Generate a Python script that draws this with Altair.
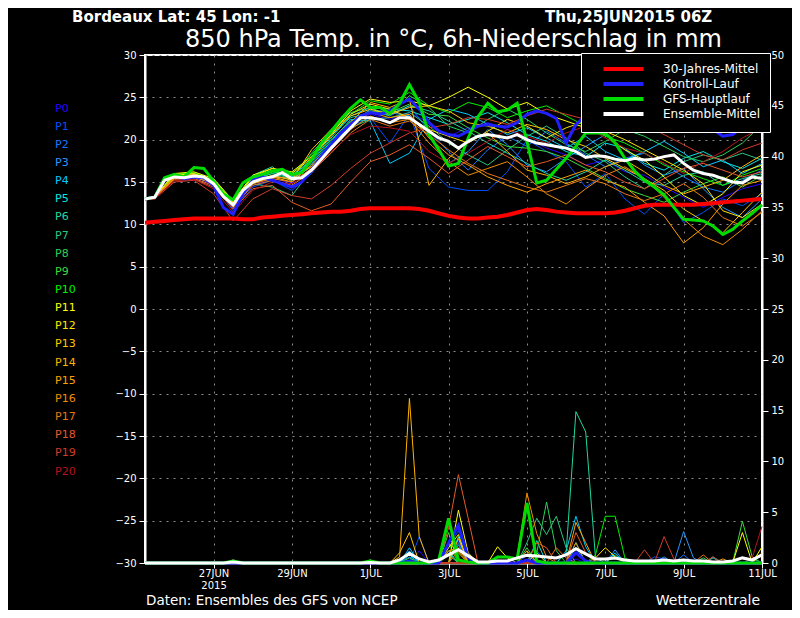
import json
import altair as alt
import pandas as pd

FONT = "DejaVu Sans"

# ---------------- data ----------------
member_names = ["P0", "P1", "P2", "P3", "P4", "P5", "P6", "P7", "P8", "P9", "P10",
                "P11", "P12", "P13", "P14", "P15", "P16", "P17", "P18", "P19", "P20"]
member_colors = ["#2800ff", "#0050ff", "#1478ff", "#2896ff", "#00c8ff", "#00e6e6", "#20d8a0",
                 "#28c882", "#28d25a", "#3cdc3c", "#00f000", "#ffff00", "#ffe600", "#ffc800",
                 "#ffb400", "#ffa000", "#f08c00", "#e67814", "#e65a28", "#d23c28", "#b4141e"]

series_names = ["30-Jahres-Mittel", "Kontroll-Lauf", "GFS-Hauptlauf", "Ensemble-Mittel"]
series_colors = ["#ff0000", "#2020ff", "#00dc00", "#ffffff"]

# forecast hours after 25 JUN 2015 00Z
hours_6h = list(range(6, 385, 6))            # 64 steps, 6-hourly
hours_12h = [6] + list(range(12, 385, 12))   # 33 steps, members temperature

tick_hours = [48, 96, 144, 192, 240, 288, 336, 384]
tick_labels = [["27JUN", "2015"], ["29JUN"], ["1JUL"], ["3JUL"], ["5JUL"], ["7JUL"], ["9JUL"], ["11JUL"]]

header_left = "Bordeaux  Lat: 45 Lon: -1"
header_right = "Thu,25JUN2015 06Z"
main_title = "850 hPa Temp. in °C, 6h-Niederschlag in mm"
footer_left = "Daten: Ensembles des GFS von NCEP"
footer_right = "Wetterzentrale"

# 850 hPa temperature of the ensemble members (12-hourly)
temp_members = {
    "P0": [13.0,13.2,15.4,15.5,14.6,11.9,14.6,15.4,14.9,16.6,19.4,21.8,23.0,22.4,23.2,22.0,20.4,21.4,22.0,21.2,20.2,19.0,18.2,17.0,17.6,16.2,15.8,14.4,13.2,12.0,13.2,14.2,14.8],
    "P1": [12.9,13.1,15.6,15.6,14.8,11.6,14.4,15.2,14.0,16.0,19.0,21.6,22.6,19.6,23.0,16.6,14.4,14.0,14.0,16.2,20.0,18.6,17.4,14.4,16.0,13.0,11.2,13.6,10.2,11.4,13.0,12.2,13.6],
    "P2": [13.1,13.3,15.7,15.9,15.0,12.4,15.2,15.6,15.4,17.0,19.6,22.2,23.4,22.8,24.0,21.0,18.6,16.4,18.8,20.4,19.2,21.0,19.6,18.2,16.8,17.8,18.4,17.2,15.6,14.4,13.8,15.2,16.4],
    "P3": [13.0,13.2,15.5,15.7,14.9,12.2,15.0,15.8,15.3,16.8,19.2,21.8,23.6,23.2,22.8,20.4,17.2,18.6,21.2,19.4,17.0,16.2,17.8,19.2,20.6,18.8,17.0,15.8,16.6,14.2,12.0,10.8,13.0],
    "P4": [13.0,13.3,15.8,15.7,15.0,12.6,15.4,16.0,15.6,17.2,19.8,22.4,22.2,17.2,18.4,22.4,23.6,23.0,21.8,20.6,21.4,20.2,19.0,20.4,18.6,17.6,18.6,19.8,18.4,16.8,17.6,16.0,17.2],
    "P5": [13.1,13.3,15.9,16.0,15.2,12.8,15.6,16.2,15.8,17.6,20.2,22.8,23.8,23.6,23.4,22.6,21.8,22.4,23.2,22.0,20.6,19.8,18.6,18.0,19.6,19.0,17.2,16.4,17.8,18.6,17.4,16.6,17.8],
    "P6": [13.0,13.2,15.6,15.8,15.2,12.6,15.8,16.8,15.0,17.8,20.6,22.6,23.2,23.0,24.0,23.4,22.2,21.0,19.6,18.4,17.2,16.0,15.2,16.2,17.6,16.4,15.0,14.6,15.8,16.2,14.6,15.4,16.0],
    "P7": [12.9,13.1,15.4,15.6,14.9,12.0,14.8,14.4,13.4,16.4,19.6,21.4,22.4,22.6,23.2,21.6,19.6,18.2,17.0,18.8,20.4,21.6,20.2,18.4,17.4,15.6,14.2,15.8,17.4,18.2,17.6,18.4,17.6],
    "P8": [13.0,13.2,15.6,15.7,15.0,12.4,15.2,16.0,15.4,18.4,21.0,23.2,23.8,22.8,25.2,23.8,21.6,20.8,22.4,23.6,22.4,20.8,19.4,18.6,19.8,21.2,20.4,19.2,18.0,17.4,18.2,19.6,21.8],
    "P9": [13.0,13.2,15.7,15.8,15.1,12.5,15.4,16.4,15.8,17.4,20.0,22.2,23.4,23.2,24.2,23.0,22.8,21.4,20.2,19.2,19.0,18.6,17.8,16.6,15.4,14.2,13.4,12.6,13.8,14.8,15.6,14.4,15.8],
    "P10": [13.0,13.3,15.9,16.1,15.3,12.7,15.6,16.2,16.0,18.2,20.8,23.0,24.6,24.2,25.6,24.0,23.2,24.4,23.8,22.6,23.4,24.0,22.8,21.6,20.4,19.6,18.4,17.0,16.2,15.4,14.6,15.8,16.6],
    "P11": [13.0,13.3,16.0,16.2,15.4,12.8,15.8,16.6,16.2,18.0,20.6,23.4,24.8,24.4,24.6,24.0,25.0,26.2,25.0,23.6,24.4,23.0,22.2,21.4,20.6,18.8,17.6,15.6,13.4,12.2,13.6,16.2,17.0],
    "P12": [13.0,13.2,15.8,16.0,15.2,12.6,15.6,16.6,16.0,17.8,20.4,23.0,24.2,23.6,22.6,21.2,20.4,19.6,21.0,22.4,21.6,20.2,21.4,22.2,21.0,20.0,18.8,17.6,16.4,14.8,11.6,10.8,12.4],
    "P13": [13.0,13.2,15.6,15.9,15.0,12.3,15.0,15.8,15.2,18.8,21.2,22.8,23.6,23.0,23.8,24.0,23.4,22.0,21.6,20.8,21.8,21.2,20.0,19.2,17.8,16.6,15.4,14.0,11.8,10.4,9.0,11.4,13.8],
    "P14": [12.9,13.1,15.4,15.6,14.8,12.1,14.8,15.6,15.0,17.0,19.4,22.0,24.4,23.8,24.8,14.6,17.8,19.8,20.8,18.6,16.4,15.8,14.8,15.6,16.8,17.6,16.2,14.6,13.6,14.4,15.2,16.8,18.2],
    "P15": [13.0,13.2,15.6,15.8,15.0,12.2,15.0,15.6,15.4,16.8,19.2,21.6,23.2,22.6,23.0,20.2,18.2,17.0,15.6,14.6,13.8,14.8,15.6,16.4,15.2,14.4,12.6,11.0,7.8,9.6,12.4,14.6,15.2],
    "P16": [13.0,13.2,15.5,15.8,14.8,12.2,14.8,15.4,15.0,16.6,18.8,21.2,22.8,22.0,22.4,19.6,17.4,15.8,16.6,17.4,15.6,13.6,12.4,14.2,15.8,16.8,15.4,13.2,10.6,8.6,7.6,9.4,11.6],
    "P17": [12.9,13.1,15.3,15.4,14.6,12.0,14.6,15.2,14.6,16.2,18.4,20.8,22.4,21.6,22.2,20.6,18.8,17.2,16.0,15.2,14.4,13.8,14.6,15.4,14.8,13.6,12.8,13.6,14.8,13.2,10.8,9.8,11.4],
    "P18": [12.9,13.1,15.2,15.3,14.4,11.8,14.2,14.6,12.6,11.6,12.4,15.0,17.4,18.2,19.4,17.8,16.0,17.6,19.2,18.0,16.8,17.4,18.2,17.0,16.2,15.0,14.2,15.4,16.6,17.2,16.4,15.6,16.2],
    "P19": [12.9,13.0,15.0,15.2,13.6,10.4,13.0,14.2,13.4,13.0,14.6,16.6,18.4,19.6,20.8,21.4,21.8,22.6,22.4,21.8,22.8,23.6,23.0,22.4,21.6,20.8,21.8,20.6,19.4,18.2,17.6,18.8,19.6],
    "P20": [12.9,13.0,15.2,15.3,14.2,11.4,14.0,15.0,14.8,16.2,18.6,20.6,21.6,21.4,21.0,18.6,17.2,18.4,19.8,21.2,20.4,19.6,20.8,21.6,20.2,19.0,18.4,17.2,16.0,17.4,18.6,20.2,21.4],
}

# 6h precipitation of the members: {6h-step index: mm}, all other steps 0 mm
precip_members = {
    "P0": {28: 1.2, 32: 2.2, 44: 0.4, 56: 0.3},
    "P1": {28: 2.6, 31: 1.5, 32: 3.2, 39: 0.8, 52: 0.6, 53: 0.4},
    "P2": {27: 0.6, 32: 2.0, 40: 1.2, 55: 0.8},
    "P3": {27: 1.2, 32: 1.8, 44: 1.5, 48: 1.3, 53: 0.6, 55: 3.1, 56: 0.5},
    "P4": {27: 1.5, 31: 1.0, 43: 1.2, 44: 4.6, 45: 1.6, 48: 1.0},
    "P5": {27: 0.8, 32: 2.6, 40: 2.2, 44: 2.0, 58: 0.5},
    "P6": {43: 1.0, 44: 14.9, 45: 12.9, 46: 0.5, 52: 0.3},
    "P7": {9: 0.3, 31: 1.2, 39: 2.0, 40: 4.4, 41: 2.8, 42: 4.6, 43: 1.5, 58: 0.6, 62: 0.4},
    "P8": {31: 0.8, 40: 1.0, 41: 6.0, 42: 1.2, 48: 0.8, 57: 0.5},
    "P9": {27: 0.5, 31: 3.0, 39: 1.5, 61: 4.1, 62: 0.6},
    "P10": {23: 0.3, 31: 2.0, 46: 0.8, 47: 4.6, 48: 4.6, 49: 0.5},
    "P11": {32: 5.2, 33: 1.0, 36: 1.6, 37: 0.5, 61: 3.0, 63: 1.6},
    "P12": {31: 1.5, 32: 2.8, 46: 0.5, 47: 1.5, 48: 0.6, 63: 1.0},
    "P13": {26: 1.0, 27: 3.0, 31: 2.0, 32: 1.0, 40: 1.0},
    "P14": {26: 0.6, 27: 16.2, 28: 2.6, 32: 2.4, 39: 1.2},
    "P15": {31: 1.2, 32: 1.5, 44: 4.0, 45: 2.0, 59: 0.4},
    "P16": {38: 0.6, 39: 6.9, 40: 2.9, 41: 0.6, 44: 2.0},
    "P17": {9: 0.2, 32: 1.2, 42: 1.5, 43: 0.5, 57: 0.8},
    "P18": {31: 3.5, 32: 8.7, 33: 4.4, 40: 2.0, 41: 1.5, 44: 3.0, 45: 1.0},
    "P19": {9: 0.3, 51: 1.3, 53: 2.6, 54: 0.4, 58: 0.6},
    "P20": {62: 0.5, 63: 3.6},
}

# 6-hourly main series
clim_temp = [10.2,10.3,10.4,10.5,10.6,10.7,10.7,10.7, 10.7,10.7,10.6,10.6,10.8,10.9,11.0,11.1,
             11.2,11.3,11.4,11.5,11.5,11.6,11.8,11.9, 11.9,11.9,11.9,11.9,11.8,11.6,11.3,11.0,
             10.8,10.7,10.7,10.8,10.9,11.1,11.4,11.7, 11.8,11.7,11.5,11.4,11.3,11.3,11.3,11.3,
             11.4,11.6,11.9,12.2,12.3,12.3,12.3,12.3, 12.3,12.4,12.5,12.6,12.7,12.8,12.9,13.0]
ctrl_temp = [13.0,13.2,15.3,15.7,15.4,15.6,15.5,14.6, 12.0,11.2,13.6,15.2,15.6,15.2,14.8,14.4,
             15.0,16.4,18.0,19.4,20.8,21.8,22.8,23.2, 23.0,23.4,24.2,24.8,23.6,22.0,21.0,20.6,
             20.4,21.0,21.6,21.8,21.6,21.5,22.0,23.0, 23.4,23.1,22.5,19.6,21.8,22.8,23.0,23.2,
             22.8,22.6,22.8,23.0,22.6,22.4,22.4,21.7, 21.4,21.5,21.2,20.4,20.6,21.5,22.3,22.3]
gfs_temp = [13.0,13.2,15.5,15.9,15.6,16.7,16.6,15.1, 13.6,12.9,14.9,15.6,15.9,16.3,16.5,15.9,
            16.1,17.6,19.6,21.0,22.4,23.7,24.7,23.8, 23.8,23.1,24.3,26.5,24.4,20.6,18.8,16.9,
            17.2,20.2,22.7,24.3,23.3,23.5,24.3,19.8, 14.9,15.2,16.5,17.8,19.2,20.8,20.8,20.8,
            19.6,17.8,16.3,15.2,14.4,13.5,12.0,10.6, 10.5,10.4,9.8,8.8,9.4,10.4,11.3,12.3]
mean_temp = [13.0,13.2,15.2,15.6,15.5,15.7,15.6,14.8, 13.3,12.3,14.0,15.0,15.4,15.6,16.1,15.4,
             15.5,16.4,17.7,19.0,20.2,21.4,22.6,22.6, 22.4,22.0,22.6,22.6,21.8,21.0,20.2,19.8,
             19.0,19.8,20.4,20.6,20.4,20.2,20.6,20.0, 19.6,19.4,19.2,19.0,18.6,17.9,18.1,18.0,
             17.7,17.5,17.8,17.6,17.7,18.0,18.2,17.2, 16.4,16.0,15.8,15.4,15.0,14.9,15.6,15.4]

ctrl_precip = [0,0,0,0,0,0,0,0, 0,0,0,0,0,0,0,0,
               0,0,0,0,0,0,0,0, 0,0,0,0.2,0,0,0,2.0,
               3.7,0.5,0,0,0,0,0,0.3, 0,0,0,0,1.0,0.2,0,0,
               0,0,0,0,0,0,0,0, 0,0,0,0,0,0,0,0]
gfs_precip = [0,0,0,0,0,0,0,0, 0,0.2,0,0,0,0,0,0,
              0,0,0,0,0,0,0,0.2, 0,0,0,0,0,0,0.3,4.4,
              0.3,0.1,0,0,0.6,0.6,0.4,5.9, 0.2,0,0,0,0,0,0,0,
              0,0,0,0,0,0,0,0, 0,0,0,0,0,0,0,0]
mean_precip = [0,0,0,0,0,0,0,0, 0,0.1,0,0,0,0,0,0,
               0,0,0,0,0,0,0,0.05, 0,0,0.3,0.95,0.4,0.1,0.3,0.8,
               1.3,0.7,0.1,0.1,0.2,0.2,0.5,0.75, 0.7,0.6,0.5,0.8,1.4,0.9,0.4,0.4,
               0.5,0.3,0.2,0.2,0.2,0.3,0.2,0.3, 0.2,0.2,0.1,0.1,0.2,0.5,0.3,0.8]

# ---------------- tables ----------------
rows = []
for m in member_names:
    for h, v in zip(hours_12h, temp_members[m]):
        rows.append({"member": m, "hour": h, "temp": v})
df_mt = pd.DataFrame(rows)

rows = []
for m in member_names:
    ev = precip_members[m]
    for i, h in enumerate(hours_6h):
        rows.append({"member": m, "hour": h, "precip": ev.get(i, 0.0)})
df_mp = pd.DataFrame(rows)

rows = []
for name, vals in zip(series_names, [clim_temp, ctrl_temp, gfs_temp, mean_temp]):
    for h, v in zip(hours_6h, vals):
        rows.append({"series": name, "hour": h, "temp": v})
df_st = pd.DataFrame(rows)

rows = []
for name, vals in zip(series_names[1:], [ctrl_precip, gfs_precip, mean_precip]):
    for h, v in zip(hours_6h, vals):
        rows.append({"series": name, "hour": h, "precip": v})
df_sp = pd.DataFrame(rows)

# ---------------- encodings ----------------
label_expr = f"{json.dumps(tick_labels)}[indexof({json.dumps(tick_hours)}, datum.value)]"
x_axis = alt.Axis(values=tick_hours, labelExpr=label_expr, title=None, grid=True,
                  gridColor="#8c8c8c", gridDash=[2, 6], gridWidth=1,
                  domainColor="white", domainWidth=2, tickColor="white", tickSize=5, tickWidth=1,
                  labelColor="white", labelFont=FONT, labelFontSize=10, labelPadding=0,
                  labelFlush=False, labelOverlap=False, labelLineHeight=12)
x_enc = alt.X("hour:Q", scale=alt.Scale(domain=[6, 384], nice=False, zero=False), axis=x_axis)

yt_axis = alt.Axis(values=list(range(-30, 31, 5)), title=None, orient="left", grid=True,
                   gridColor="#8c8c8c", gridDash=[2, 5], gridWidth=1,
                   domainColor="white", domainWidth=2, tickColor="white", tickSize=6,
                   labelColor="white", labelFont=FONT, labelFontSize=10, labelPadding=3)
yt_enc = alt.Y("temp:Q", scale=alt.Scale(domain=[-30, 30], nice=False, zero=False), axis=yt_axis)

yp_axis = alt.Axis(values=list(range(0, 51, 5)), title=None, orient="right", grid=False,
                   domainColor="white", domainWidth=2, tickColor="white", tickSize=6,
                   labelColor="white", labelFont=FONT, labelFontSize=10, labelPadding=3)
yp_enc = alt.Y("precip:Q", scale=alt.Scale(domain=[0, 50], nice=False, zero=False), axis=yp_axis)

member_scale = alt.Scale(domain=member_names, range=member_colors)
series_scale = alt.Scale(domain=series_names, range=series_colors)

label_color_expr = f"{json.dumps(member_colors)}[indexof({json.dumps(member_names)}, datum.value)]"
member_legend = alt.Legend(orient="none", legendX=-101, legendY=48, title=None, direction="vertical",
                           symbolSize=0, symbolOpacity=0, symbolStrokeWidth=0, labelOffset=0,
                           labelFont=FONT, labelFontSize=11, labelColor=alt.ExprRef(expr=label_color_expr),
                           rowPadding=6.15, padding=0)
series_legend = alt.Legend(orient="none", legendX=436, legendY=-2, title=None, direction="vertical",
                           symbolType="M2.6,0H18.6", symbolSize=25, symbolStrokeWidth=4,
                           fillColor="black", strokeColor="white", padding=10,
                           labelColor="white", labelFont=FONT, labelFontSize=12, labelOffset=60,
                           rowPadding=-1, labelLimit=0)

# ---------------- layers ----------------
members_temp = alt.Chart(df_mt).mark_line(strokeWidth=1).encode(
    x=x_enc, y=yt_enc, color=alt.Color("member:N", scale=member_scale, legend=member_legend))

widths = {"30-Jahres-Mittel": 4, "Kontroll-Lauf": 3, "GFS-Hauptlauf": 3, "Ensemble-Mittel": 3}
main_temp_layers = []
for name in series_names:
    main_temp_layers.append(
        alt.Chart(df_st).transform_filter(alt.datum.series == name).mark_line(strokeWidth=widths[name]).encode(
            x=x_enc, y=yt_enc, color=alt.Color("series:N", scale=series_scale, legend=series_legend)))
temp_group = alt.layer(members_temp, alt.layer(*main_temp_layers)).resolve_scale(color="independent")

members_precip = alt.Chart(df_mp).mark_line(strokeWidth=1).encode(
    x=x_enc, y=yp_enc, color=alt.Color("member:N", scale=member_scale, legend=None))
main_precip_layers = []
for name in series_names[1:]:
    main_precip_layers.append(
        alt.Chart(df_sp).transform_filter(alt.datum.series == name).mark_line(strokeWidth=3).encode(
            x=x_enc, y=yp_enc, color=alt.Color("series:N", scale=series_scale, legend=None)))
precip_group = alt.layer(members_precip, alt.layer(*main_precip_layers)).resolve_scale(color="independent")


def text_layer(txt, x, y, size, align, weight="normal"):
    return alt.Chart(pd.DataFrame({"t": [txt]})).mark_text(
        align=align, baseline="middle", color="white", font=FONT, fontSize=size, fontWeight=weight
    ).encode(text="t:N", x=alt.value(x), y=alt.value(y))


texts = alt.layer(
    text_layer(header_left, -73, -38, 15, "left", "bold"),
    text_layer(header_right, 400, -38, 15, "left", "bold"),
    text_layer(main_title, 308.5, -15, 24, "center"),
    text_layer(footer_left, 1, 546, 13.5, "left"),
    text_layer(footer_right, 615, 546, 14, "right"),
)

chart = alt.layer(precip_group, temp_group, texts).resolve_scale(
    y="independent", color="independent"
).properties(
    width=617, height=508,
    background="black",
    padding={"left": 137, "top": 47, "right": 30, "bottom": 47},
    autosize=alt.AutoSizeParams(type="none"),
).configure_view(stroke="white", strokeWidth=2)

chart.save("out.html", embed_options={"renderer": "svg", "actions": False})
